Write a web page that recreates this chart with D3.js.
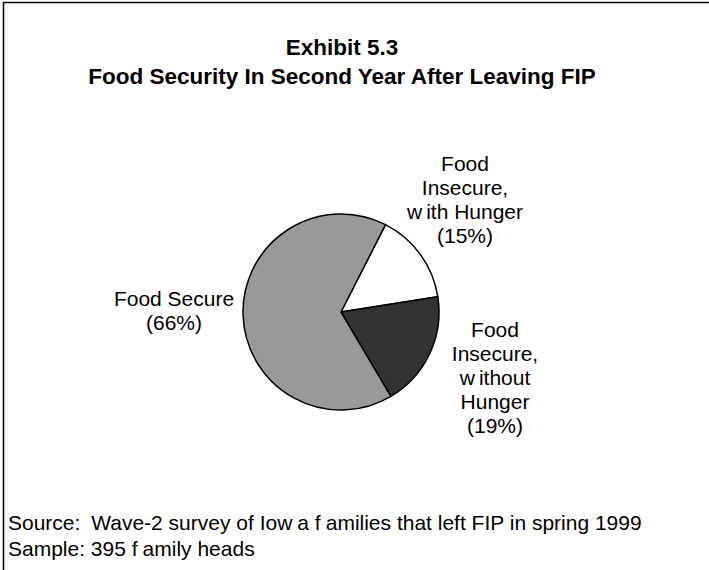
<!DOCTYPE html>
<html>
<head>
<meta charset="utf-8">
<script src="https://cdn.jsdelivr.net/npm/d3@7"></script>
<style>
  html, body { margin: 0; padding: 0; background: #fff; }
  svg { display: block; }
  text { font-family: "Liberation Sans", Arial, sans-serif; fill: #000; }
</style>
</head>
<body>
<svg id="chart" width="709" height="570"></svg>
<script>
// Share of family heads by food-security status
const categories = ["Food Insecure, with Hunger", "Food Insecure, without Hunger", "Food Secure"];
const shares = [15, 19, 66];
const sliceColors = ["#ffffff", "#333333", "#999999"];

// Label lines; "|" marks a small gap between glyph runs
const labelLines = [
  ["Food", "Insecure,", "w|ith Hunger", "(15%)"],
  ["Food", "Insecure,", "w|ithout", "Hunger", "(19%)"],
  ["Food Secure", "(66%)"]
];

const titleLines = ["Exhibit 5.3", "Food Security In Second Year After Leaving FIP"];
const footnotes = ["Source:| Wave-2 survey of Iow|a f|amilies that left FIP in spring 1999",
                   "Sample: 395 f|amily heads"];

const svg = d3.select("#chart");

// Frame (continues past the right and bottom edges)
svg.append("rect")
  .attr("x", 3.5).attr("y", 2.5)
  .attr("width", 720).attr("height", 600)
  .attr("fill", "none").attr("stroke", "#000").attr("stroke-width", 1.5);

// Title
svg.append("g").selectAll("text")
  .data(titleLines).join("text")
  .attr("x", 342)
  .attr("y", (d, i) => 55 + i * 29)
  .attr("text-anchor", "middle")
  .attr("font-weight", "bold")
  .attr("font-size", 22.5)
  .text(d => d);

// Pie
const cx = 341, cy = 312, radius = 98;
const startDeg = 27;
const pie = d3.pie().sort(null)
  .startAngle(startDeg * Math.PI / 180)
  .endAngle((startDeg + 360) * Math.PI / 180);
const arcs = pie(shares);
const arc = d3.arc().innerRadius(0).outerRadius(radius);

svg.append("g")
  .attr("transform", `translate(${cx},${cy})`)
  .selectAll("path")
  .data(arcs).join("path")
  .attr("d", arc)
  .attr("fill", (d, i) => sliceColors[i])
  .attr("stroke", "#000")
  .attr("stroke-width", 1.5)
  .attr("stroke-linejoin", "round");

// Text with optional gaps marked by "|"
function gapText(sel, str, gap) {
  str.split("|").forEach((part, k) => {
    sel.append("tspan").attr("dx", k === 0 ? 0 : gap).text(part);
  });
}

// Slice labels
const labelPos = [
  { x: 465, y: 171 },
  { x: 495, y: 337 },
  { x: 174, y: 306 }
];
const lineGap = 24;
labelLines.forEach((lines, i) => {
  const g = svg.append("g").attr("class", "slice-label");
  lines.forEach((ln, j) => {
    const t = g.append("text")
      .attr("x", labelPos[i].x)
      .attr("y", labelPos[i].y + j * lineGap)
      .attr("text-anchor", "middle")
      .attr("font-size", 21);
    gapText(t, ln, 4);
  });
});

// Footnotes
footnotes.forEach((ln, i) => {
  const t = svg.append("text")
    .attr("x", 8)
    .attr("y", 530 + i * 26)
    .attr("font-size", 21);
  gapText(t, ln, 5);
});
</script>
</body>
</html>
